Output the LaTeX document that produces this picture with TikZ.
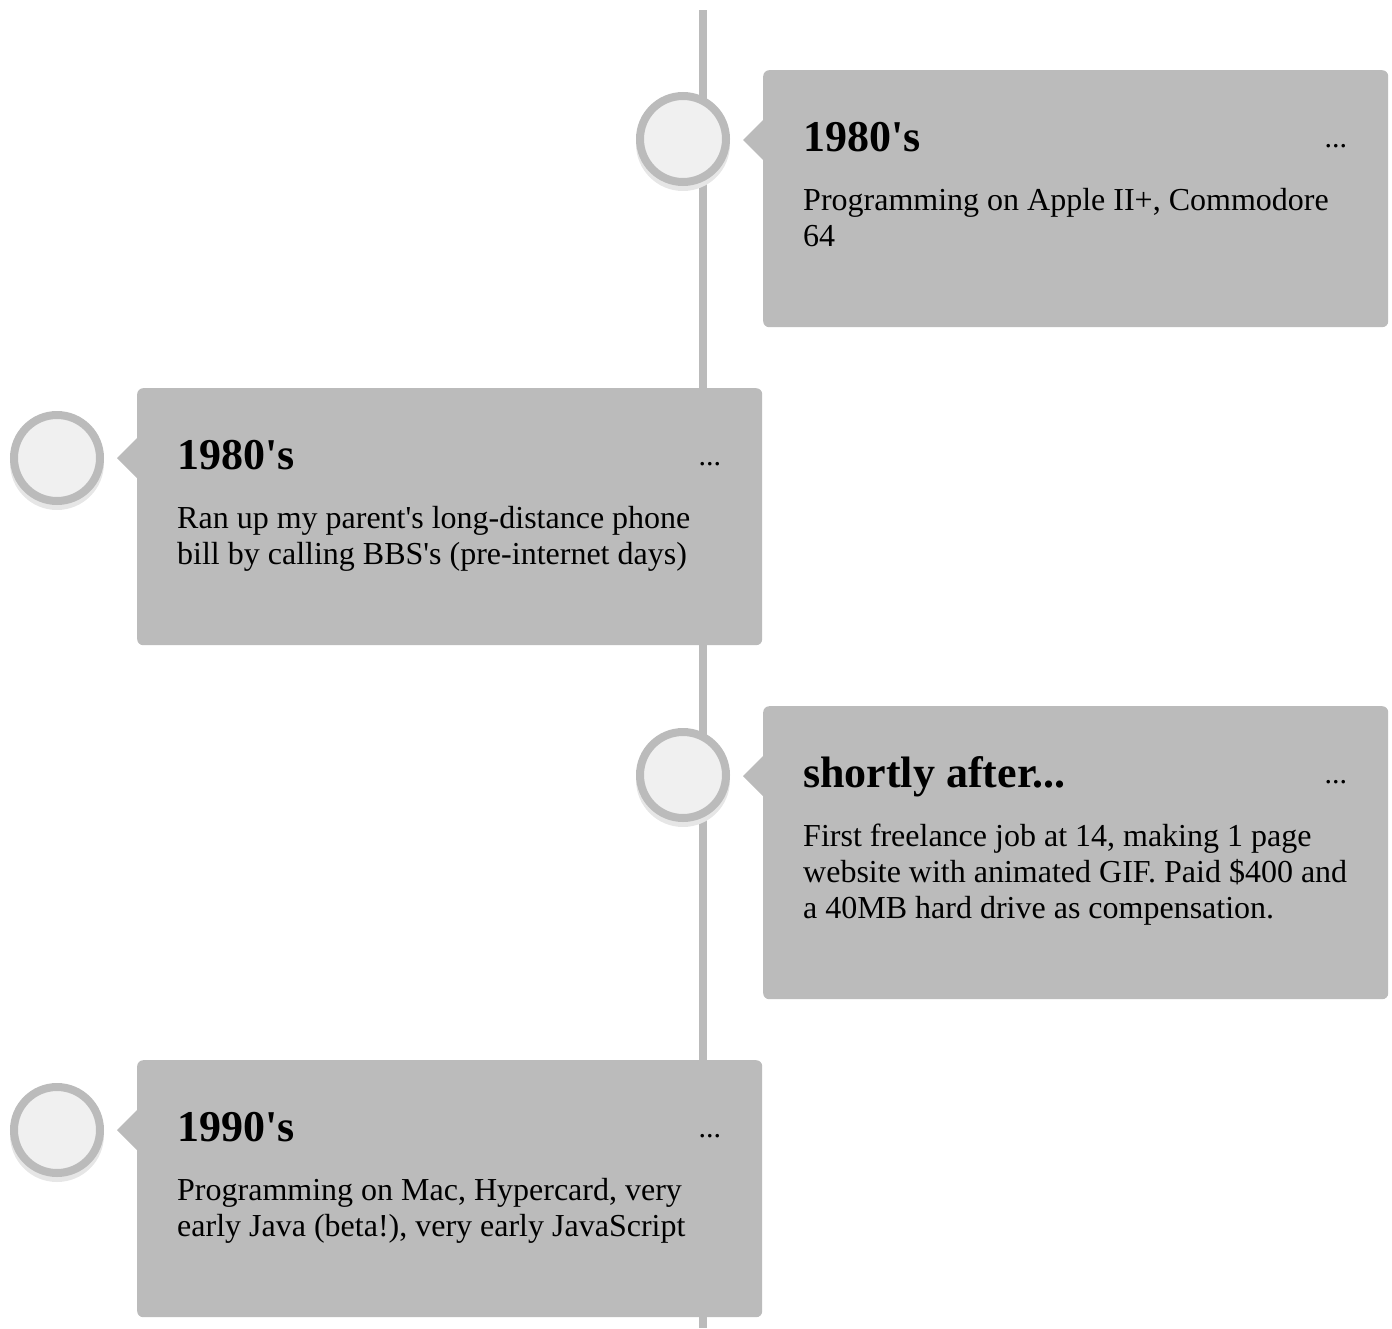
\documentclass[tikz,border=0pt]{standalone}
\usepackage{fontspec}
\setmainfont{Liberation Serif}
\usetikzlibrary{calc,positioning}

\definecolor{linegray}{HTML}{BBBBBB}
\definecolor{dotfill}{HTML}{F0F0F0}
\definecolor{dotshade}{HTML}{E6E6E6}

\tikzset{
  card/.style={fill=linegray, rounded corners=6pt, inner sep=0pt,
               minimum width=625pt},
  stamp/.style={circle, draw=linegray, line width=8pt, fill=dotfill,
                inner sep=0pt, minimum size=86pt},
  stampshade/.style={circle, fill=dotshade, inner sep=0pt, minimum size=94pt},
  title/.style={font=\fontsize{44}{50}\selectfont\bfseries, inner sep=0pt},
  body/.style={font=\fontsize{32}{36}\selectfont, align=left, inner sep=0pt,
               anchor=north west, execute at begin node=\strut},
  more/.style={font=\fontsize{30}{36}\selectfont, inner sep=0pt}
}
\newcommand{\q}{\textquotesingle}

\begin{document}
\begin{tikzpicture}[x=1pt, y=-1pt]
\useasboundingbox (0,0) rectangle (1392,1328);

% timeline
\coordinate (top) at (703,10);
\coordinate (bottom) at (703,1328);
\draw[linegray, line width=8pt] (top) -- (bottom);

% cards
\node[card, minimum height=257pt, anchor=north west] (c1) at (763,70) {};
\node[card, minimum height=257pt, anchor=north west] (c2) at (137,388) {};
\node[card, minimum height=293pt, anchor=north west] (c3) at (763,706) {};
\node[card, minimum height=257pt, anchor=north west] (c4) at (137,1060) {};

% pointers
\fill[linegray] ($(c1.north west)+(0,50)$) -- ++(-20,20) -- ++(20,20) -- cycle;
\fill[linegray] ($(c2.north west)+(0,50)$) -- ++(-20,20) -- ++(20,20) -- cycle;
\fill[linegray] ($(c3.north west)+(0,50)$) -- ++(-20,20) -- ++(20,20) -- cycle;
\fill[linegray] ($(c4.north west)+(0,50)$) -- ++(-20,20) -- ++(20,20) -- cycle;

% stamps on the line
\node[stampshade] at (683,144) {};
\node[stamp] (s1) at (683,139) {};
\node[stampshade] at (57,463) {};
\node[stamp] (s2) at (57,458) {};
\node[stampshade] at (683,780) {};
\node[stamp] (s3) at (683,775) {};
\node[stampshade] at (57,1135) {};
\node[stamp] (s4) at (57,1130) {};

% texts (body nodes hang from the strut top of the first line)
\node[title, anchor=base west] (t1) at ($(c1.north west)+(40,81)$) {1980\q s};
\node[more, anchor=base east] (m1) at ($(c1.north east)+(-41,77)$) {...};
\node[body] (b1) at ($(c1.north west)+(40,117.8)$)
  {Programming on Apple II+, Commodore\\64};

\node[title, anchor=base west] (t2) at ($(c2.north west)+(40,81)$) {1980\q s};
\node[more, anchor=base east] (m2) at ($(c2.north east)+(-41,77)$) {...};
\node[body] (b2) at ($(c2.north west)+(40,117.8)$)
  {Ran up my parent\q s long-distance phone\\bill by calling BBS\q s (pre-internet days)};

\node[title, anchor=base west] (t3) at ($(c3.north west)+(40,81)$) {shortly after...};
\node[more, anchor=base east] (m3) at ($(c3.north east)+(-41,77)$) {...};
\node[body] (b3) at ($(c3.north west)+(40,117.8)$)
  {First freelance job at 14, making 1 page\\website with animated GIF. Paid \$400 and\\a 40MB hard drive as compensation.};

\node[title, anchor=base west] (t4) at ($(c4.north west)+(40,81)$) {1990\q s};
\node[more, anchor=base east] (m4) at ($(c4.north east)+(-41,77)$) {...};
\node[body] (b4) at ($(c4.north west)+(40,117.8)$)
  {Programming on Mac, Hypercard, very\\early Java (beta!), very early JavaScript};
\end{tikzpicture}
\end{document}
